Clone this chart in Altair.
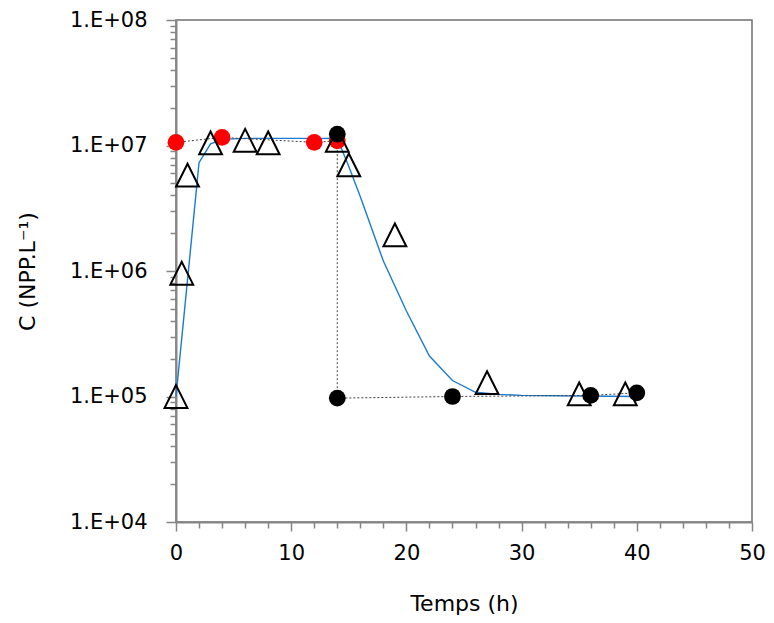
import altair as alt
import pandas as pd

# ---- data ----
red_t = [0, 4, 12, 14]
red_c = [1.06e7, 1.16e7, 1.06e7, 1.09e7]

black_t = [14, 14, 24, 36, 40]
black_c = [1.23e7, 9.7e4, 1.0e5, 1.02e5, 1.07e5]

tri_t = [0, 0.5, 1, 3, 6, 8, 14, 15, 19, 27, 35, 39]
tri_c = [1.0e5, 9.6e5, 5.8e6, 1.05e7, 1.1e7, 1.05e7, 1.1e7, 7.0e6, 1.94e6, 1.29e5, 1.05e5, 1.05e5]

model_t = [0, 1, 2, 3, 4, 6, 14, 15, 16, 18, 20, 22, 24, 26, 28, 30, 35, 40]
model_c = [1.0e5, 8.5e5, 7.3e6, 1.03e7, 1.12e7, 1.14e7, 1.14e7, 6.8e6, 3.9e6, 1.2e6,
           4.8e5, 2.1e5, 1.34e5, 1.08e5, 1.04e5, 1.02e5, 1.01e5, 1.0e5]

x_major = [0, 10, 20, 30, 40, 50]
x_minor = [v for v in range(0, 51, 2) if v % 10 != 0]
y_major = [1e4, 1e5, 1e6, 1e7, 1e8]
y_minor = [m * 10 ** e for e in range(4, 8) for m in range(2, 10)]

df_red = pd.DataFrame({"t": red_t, "c": red_c, "o": list(range(len(red_t)))})
df_black = pd.DataFrame({"t": black_t, "c": black_c, "o": list(range(len(black_t)))})
df_tri = pd.DataFrame({"t": tri_t, "c": tri_c})
df_model = pd.DataFrame({"t": model_t, "c": model_c})

FONT = "DejaVu Sans"
AXC = "#868686"

xs = alt.Scale(domain=[0, 50], nice=False, zero=False)
ys = alt.Scale(type="log", domain=[1e4, 1e8], nice=False)

x_main_axis = alt.Axis(values=x_major, title="Temps (h)", grid=False, orient="bottom",
                       domainColor=AXC, domainWidth=2, tickColor=AXC, tickWidth=1.5, tickSize=9,
                       labelFont=FONT, labelFontSize=21, labelColor="black", labelPadding=11,
                       titleFont=FONT, titleFontSize=22, titleFontWeight="normal", titleColor="black",
                       titlePadding=30, labelFlush=False)
y_main_axis = alt.Axis(values=y_major, title="C (NPP.L⁻¹)", grid=False, orient="left",
                       labelExpr="'1.E+0' + round(log(datum.value)/LN10)",
                       domainColor=AXC, domainWidth=2, tickColor=AXC, tickWidth=1.5, tickSize=10,
                       labelFont=FONT, labelFontSize=21, labelColor="black", labelPadding=19,
                       titleFont=FONT, titleFontSize=22, titleFontWeight="normal", titleColor="black",
                       titlePadding=30, labelFlush=False)
x_minor_axis = alt.Axis(values=x_minor, title=None, labels=False, domain=False, grid=False,
                        orient="bottom", tickColor=AXC, tickWidth=1.5, tickSize=6)
y_minor_axis = alt.Axis(values=y_minor, title=None, labels=False, domain=False, grid=False,
                        orient="left", tickColor=AXC, tickWidth=1.5, tickSize=6)

model = alt.Chart(df_model).mark_line(color="#1a7bd0", strokeWidth=1.4).encode(
    x=alt.X("t:Q", scale=xs, axis=x_main_axis),
    y=alt.Y("c:Q", scale=ys, axis=y_main_axis),
)

red_line = alt.Chart(df_red).mark_line(color="#404040", strokeWidth=1, strokeDash=[2, 2]).encode(
    x=alt.X("t:Q", scale=xs, axis=x_minor_axis),
    y=alt.Y("c:Q", scale=ys, axis=y_minor_axis),
    order="o:Q",
)
black_line = alt.Chart(df_black).mark_line(color="#404040", strokeWidth=1, strokeDash=[2, 2]).encode(
    x=alt.X("t:Q", scale=xs, axis=None),
    y=alt.Y("c:Q", scale=ys, axis=None),
    order="o:Q",
)
red_pts = alt.Chart(df_red).mark_circle(size=280, color="#ff0000", opacity=1).encode(
    x=alt.X("t:Q", scale=xs, axis=None),
    y=alt.Y("c:Q", scale=ys, axis=None),
)
tri_pts = alt.Chart(df_tri).mark_point(shape="M0,-1L1,1L-1,1Z", size=520, filled=False,
                                       stroke="black", strokeWidth=2, opacity=1).encode(
    x=alt.X("t:Q", scale=xs, axis=None),
    y=alt.Y("c:Q", scale=ys, axis=None),
)
black_pts = alt.Chart(df_black).mark_circle(size=280, color="black", opacity=1).encode(
    x=alt.X("t:Q", scale=xs, axis=None),
    y=alt.Y("c:Q", scale=ys, axis=None),
)

chart = alt.layer(model, red_line, black_line, red_pts, tri_pts, black_pts).resolve_axis(
    x="independent", y="independent"
).properties(
    width=576, height=502,
    autosize=alt.AutoSizeParams(type="none"),
    padding={"left": 168, "top": 12, "right": 14, "bottom": 93},
    background="white",
).configure_view(stroke="#707070", strokeWidth=1.5)

chart.save("out.html", embed_options={"renderer": "svg", "actions": False})
